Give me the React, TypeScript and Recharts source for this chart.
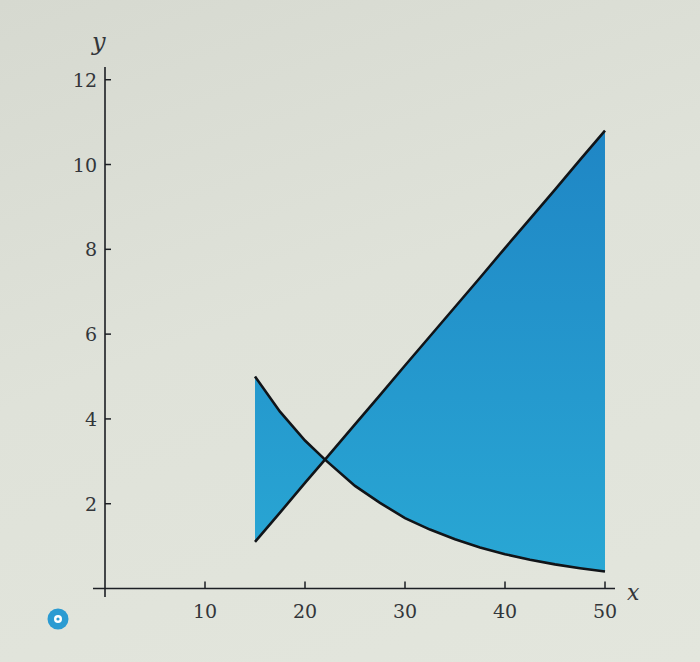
import React from 'react';
import {
  ComposedChart,
  Area,
  Line,
  XAxis,
  YAxis,
  ReferenceLine,
} from 'recharts';

// values
const xValues = [15, 17.5, 20, 22, 25, 27.5, 30, 32.5, 35, 37.5, 40, 42.5, 45, 47.5, 50];
const curveValues = [5.0, 4.17, 3.49, 3.04, 2.42, 2.02, 1.66, 1.39, 1.16, 0.97, 0.81, 0.68, 0.57, 0.48, 0.4];
const lineValues = [1.1, 1.79, 2.49, 3.04, 3.87, 4.56, 5.26, 5.95, 6.64, 7.33, 8.03, 8.72, 9.41, 10.11, 10.8];
const xTicks = [10, 20, 30, 40, 50];
const yTicks = [2, 4, 6, 8, 10, 12];

const data = xValues.map((x, i) => ({
  x,
  curve: curveValues[i],
  line: lineValues[i],
  band: [Math.min(curveValues[i], lineValues[i]), Math.max(curveValues[i], lineValues[i])],
}));

const W = 700;
const H = 662;
const AXIS_SIZE = 30;
const MARGIN = { top: 67, right: 85, bottom: 65 - AXIS_SIZE, left: 93 - AXIS_SIZE };
const X_DOMAIN: [number, number] = [-1.2, 51];
const Y_DOMAIN: [number, number] = [-0.2, 12.3];
const PLOT_W = W - 93 - MARGIN.right;
const PLOT_H = H - MARGIN.top - 65;
// distance from plot edge to the zero lines
const X_ZERO = ((0 - X_DOMAIN[0]) / (X_DOMAIN[1] - X_DOMAIN[0])) * PLOT_W;
const Y_ZERO = ((0 - Y_DOMAIN[0]) / (Y_DOMAIN[1] - Y_DOMAIN[0])) * PLOT_H;

const INK = '#1c1f24';
const LABEL = '#33363a';
const FONT = '"DejaVu Serif", serif';

const XTick = (props: any) => {
  const { x, y, payload } = props;
  const axisY = y - Y_ZERO;
  return (
    <g>
      <line x1={x} y1={axisY} x2={x} y2={axisY - 7} stroke={INK} strokeWidth={1.5} />
      <text x={x} y={axisY + 29} textAnchor="middle" fontSize={19} fontFamily={FONT} fill={LABEL}>
        {payload.value}
      </text>
    </g>
  );
};

const YTick = (props: any) => {
  const { x, y, payload } = props;
  const axisX = x + X_ZERO;
  return (
    <g>
      <line x1={axisX} y1={y} x2={axisX + 6} y2={y} stroke={INK} strokeWidth={1.5} />
      <text x={axisX - 8} y={y + 7} textAnchor="end" fontSize={19} fontFamily={FONT} fill={LABEL}>
        {payload.value}
      </text>
    </g>
  );
};

export default function App() {
  return (
    <div
      style={{
        position: 'fixed',
        left: 0,
        top: 0,
        width: W,
        height: H,
        background: 'linear-gradient(160deg, #d6d9d0 0%, #dfe2d9 45%, #e3e6dd 100%)',
        overflow: 'hidden',
      }}
    >
      <ComposedChart width={W} height={H} data={data} margin={MARGIN}>
        <defs>
          <linearGradient id="fillBlue" x1="0" y1="0" x2="0" y2="1">
            <stop offset="0%" stopColor="#1f86c5" />
            <stop offset="100%" stopColor="#29a7d4" />
          </linearGradient>
        </defs>
        <XAxis
          type="number"
          dataKey="x"
          domain={X_DOMAIN}
          allowDataOverflow
          ticks={xTicks}
          interval={0}
          axisLine={false}
          tickLine={false}
          tickSize={0}
          tickMargin={0}
          height={AXIS_SIZE}
          tick={(p: any) => <XTick {...p} />}
        />
        <YAxis
          type="number"
          domain={Y_DOMAIN}
          allowDataOverflow
          ticks={yTicks}
          interval={0}
          axisLine={false}
          tickLine={false}
          tickSize={0}
          tickMargin={0}
          width={AXIS_SIZE}
          tick={(p: any) => <YTick {...p} />}
        />
        <ReferenceLine y={0} stroke={INK} strokeWidth={1.6} />
        <ReferenceLine x={0} stroke={INK} strokeWidth={1.6} />
        <Area
          type="linear"
          dataKey="band"
          stroke="none"
          fill="url(#fillBlue)"
          fillOpacity={1}
          isAnimationActive={false}
        />
        <Line type="linear" dataKey="curve" stroke="#111418" strokeWidth={2.6} dot={false} isAnimationActive={false} />
        <Line type="linear" dataKey="line" stroke="#111418" strokeWidth={2.6} dot={false} isAnimationActive={false} />
      </ComposedChart>
      <span
        style={{
          position: 'absolute',
          left: 92,
          top: 28,
          fontFamily: FONT,
          fontStyle: 'italic',
          fontSize: 24,
          color: LABEL,
        }}
      >
        y
      </span>
      <span
        style={{
          position: 'absolute',
          left: 627,
          top: 580,
          fontFamily: FONT,
          fontStyle: 'italic',
          fontSize: 22,
          color: LABEL,
        }}
      >
        x
      </span>
      <svg style={{ position: 'absolute', left: 45, top: 606 }} width={26} height={26}>
        <circle cx={13} cy={13} r={10.5} fill="#2b9bd2" />
        <circle cx={13} cy={13} r={4} fill="#ffffff" />
        <circle cx={13} cy={13} r={1.6} fill="#2b9bd2" />
      </svg>
    </div>
  );
}
